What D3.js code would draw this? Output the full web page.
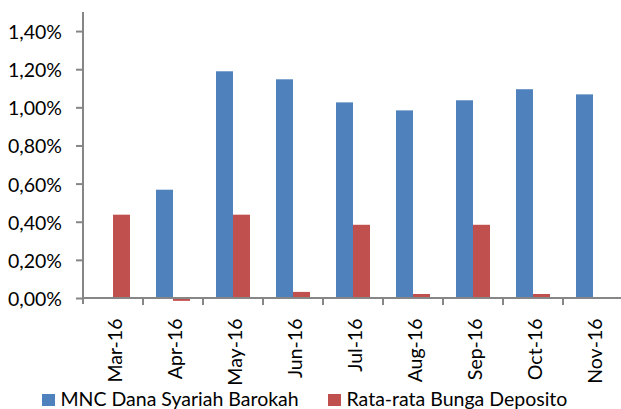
<!DOCTYPE html>
<html><head><meta charset="utf-8">
<script src="https://cdn.jsdelivr.net/npm/d3@7"></script>
<style>
html,body{margin:0;padding:0;background:#fff;}
svg{display:block;}
text{font-family:Lato,"Open Sans",sans-serif;fill:#000;}
</style></head>
<body>
<svg id="c" width="621" height="409"></svg>
<script>
const categories = ["Mar-16","Apr-16","May-16","Jun-16","Jul-16","Aug-16","Sep-16","Oct-16","Nov-16"];
const seriesNames = ["MNC Dana Syariah Barokah","Rata-rata Bunga Deposito"];
const mncValues = [null,0.00568,0.01189,0.01147,0.01026,0.00984,0.01037,0.01095,0.01068];
const depositoValues = [0.00437,-0.00015,0.00437,0.00032,0.00384,0.00021,0.00384,0.00021,null];
const yTicks = [0,0.002,0.004,0.006,0.008,0.010,0.012,0.014];
const colors = ["#4F81BD","#C0504D"];

(function(){
const svg = d3.select("#c");
const pl = 83, pr = 623, pt = 12, pb = 298;
const fs = "19.5px";
const y = d3.scaleLinear().domain([0,0.015]).range([pb, pt]);
const x0 = d3.scaleBand().domain(categories).range([pl, pr]).padding(0);
const x1 = d3.scaleBand().domain(seriesNames).range([0, x0.bandwidth()]).paddingInner(0).paddingOuter(0.765);

const fmt = v => d3.format(".2f")(v*100).replace(".", ",") + "%";

const data = [mncValues, depositoValues];
data.forEach((vals, si) => {
  svg.append("g").selectAll("rect").data(categories.map((c,i)=>({c, v: vals[i]})).filter(d=>d.v!==null))
    .join("rect")
    .attr("x", d => x0(d.c) + x1(seriesNames[si]))
    .attr("width", x1.bandwidth())
    .attr("y", d => y(Math.max(0,d.v)))
    .attr("height", d => Math.abs(y(d.v) - y(0)))
    .attr("fill", colors[si]);
});

const yAxis = d3.axisLeft(y).tickValues(yTicks).tickFormat(fmt).tickSize(7).tickPadding(14);
const gy = svg.append("g").attr("transform",`translate(${pl},0)`).call(yAxis);
gy.select(".domain").remove();
gy.append("line").attr("x1",0).attr("x2",0).attr("y1",pt).attr("y2",pb+6).attr("stroke","#868686").attr("stroke-width",2);
gy.selectAll(".tick line").attr("stroke","#868686").attr("stroke-width",2);
gy.selectAll(".tick text").attr("dy","0.38em").style("font-size",fs).style("font-family","Lato,'Open Sans',sans-serif").attr("fill","#000");

const gx = svg.append("g").attr("transform",`translate(0,${pb})`);
gx.append("line").attr("x1",pl).attr("x2",pr).attr("y1",0).attr("y2",0).attr("stroke","#868686").attr("stroke-width",2);
gx.selectAll("line.t").data(categories.slice(1)).join("line").attr("class","t")
  .attr("x1",d=>x0(d)).attr("x2",d=>x0(d)).attr("y1",0).attr("y2",7)
  .attr("stroke","#868686").attr("stroke-width",2);
gx.selectAll("text").data(categories).join("text")
  .attr("transform", d => `translate(${x0(d)+x0.bandwidth()/2+8.5},20.5) rotate(-90)`)
  .attr("text-anchor","end")
  .style("font-size",fs)
  .text(d=>d);

const lg = svg.append("g");
const legendX = [42, 328];
seriesNames.forEach((n,i)=>{
  lg.append("rect").attr("x",legendX[i]).attr("y",394).attr("width",13).attr("height",12).attr("fill",colors[i]);
  lg.append("text").attr("x",legendX[i]+18.5).attr("y",405.7).style("font-size",fs).text(n);
});
})();
</script>
</body></html>
